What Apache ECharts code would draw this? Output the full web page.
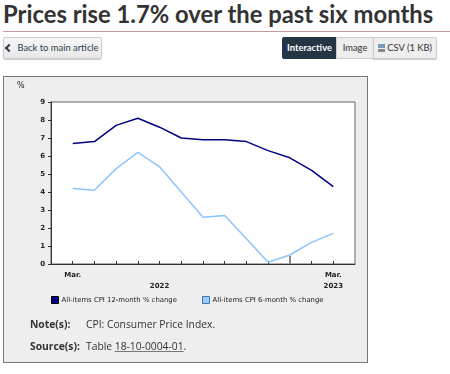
<!DOCTYPE html>
<html>
<head>
<meta charset="utf-8">
<script src="https://cdn.jsdelivr.net/npm/echarts@6/dist/echarts.min.js"></script>
<style>
  html, body { margin:0; padding:0; background:#fff; width:450px; height:374px; overflow:hidden; }
  #title { position:absolute; left:3px; top:0px; font-family:Lato, sans-serif; font-weight:bold; font-size:23.8px; color:#333; white-space:nowrap; }
  #rule { position:absolute; left:3px; top:31px; width:447px; height:1px; background:#c79a9e; }
  .btn { position:absolute; top:37px; height:22px; box-sizing:border-box; font-family:Lato, sans-serif; font-size:9.4px; line-height:20px; color:#333; border:1px solid #ccc; background:linear-gradient(#f7f7f7,#e8e8e8); text-align:center; white-space:nowrap; }
  #back { left:3px; width:99px; border-radius:2px; box-shadow:0 1px 1px rgba(0,0,0,0.2); color:#2d3e50; }
  #inter { left:282px; width:55px; background:#263545; border-color:#263545; color:#fff; font-weight:bold; border-radius:2px 0 0 2px; }
  #img { left:336px; width:38px; background:#eee; }
  #csv { left:373px; width:64px; background:#eee; border-radius:0 2px 2px 0; box-shadow:0 1px 1px rgba(0,0,0,0.2); }
  .chev { display:inline-block; width:4px; height:4px; border-left:2px solid #2d3e50; border-bottom:2px solid #2d3e50; transform:rotate(45deg); vertical-align:0px; margin-right:5px; }
  #box { position:absolute; left:3px; top:76px; width:363px; height:285px; border:1px solid #777; background:#eeeeee; }
  #chart { position:absolute; left:0; top:0; width:363px; height:285px; }
  .note { position:absolute; font-family:"Open Sans", sans-serif; font-size:10.3px; color:#333; white-space:nowrap; }
  .lab { font-weight:bold; }
  .link { text-decoration:underline; text-decoration-color:#777; }
</style>
</head>
<body>
<div id="title">Prices rise 1.7% over the past six months</div>
<div id="rule"></div>
<div class="btn" id="back"><span class="chev"></span>Back to main article</div>
<div class="btn" id="inter">Interactive</div>
<div class="btn" id="img">Image</div>
<div class="btn" id="csv"><span style="display:inline-block;width:7px;height:8px;vertical-align:-1px;background:linear-gradient(#7a9ab8 0 45%, transparent 45% 60%, #888 60%);"></span>&nbsp;CSV (1 KB)</div>
<div id="box">
  <div id="chart"></div>
  <div class="note lab" style="left:26px;top:240px;">Note(s):</div>
  <div class="note" style="left:82px;top:240px;">CPI: Consumer Price Index.</div>
  <div class="note lab" style="left:26px;top:262px;">Source(s):</div>
  <div class="note" style="left:82px;top:262px;">Table <span class="link">18-10-0004-01</span>.</div>
</div>
<script>
// Data
const months = ["Mar. 2022","Apr. 2022","May 2022","Jun. 2022","Jul. 2022","Aug. 2022","Sep. 2022","Oct. 2022","Nov. 2022","Dec. 2022","Jan. 2023","Feb. 2023","Mar. 2023"];
const cpi12 = [6.7, 6.8, 7.7, 8.1, 7.6, 7.0, 6.9, 6.9, 6.8, 6.3, 5.9, 5.2, 4.3];
const cpi6  = [4.2, 4.1, 5.3, 6.2, 5.4, 4.0, 2.6, 2.7, 1.4, 0.1, 0.5, 1.2, 1.7];
const yTicks = [0,1,2,3,4,5,6,7,8,9];
const name12 = "All-items CPI 12-month % change";
const name6 = "All-items CPI 6-month % change";
// x-axis labels: index in months -> label
const xLabels = { 0: "Mar.", 4: "\n2022", 12: "Mar.\n2023" };
const yearStartIndex = 10; // Jan. 2023

// padded categories so that the axis extends one month past each end
const cats = [""].concat(months, [""]);
const pad = arr => [null].concat(arr, [null]);

const chart = echarts.init(document.getElementById('chart'), null, {renderer:'canvas'});
const axisFont = { fontFamily: 'DejaVu Sans, sans-serif', fontSize: 7, color: '#222', fontWeight: 'bold' };
const legendText = { fontFamily: 'DejaVu Sans, sans-serif', fontSize: 6.9, color: '#222', padding: [0,0,0,-2] };
chart.setOption({
  animation: false,
  backgroundColor: 'transparent',
  grid: { left: 47, top: 25, width: 304, height: 162, show: true, backgroundColor: '#fff', borderColor: '#666', borderWidth: 1 },
  graphic: [
    { type: 'text', left: 13, top: 5, style: { text: '%', fontFamily: 'DejaVu Sans, sans-serif', fontSize: 8, fill: '#222' } }
  ],
  legend: [
    { data: [name12], left: 47, top: 219, padding: 0, itemWidth: 7, itemHeight: 7, icon: 'rect', itemGap: 0,
      itemStyle: { borderColor: '#000', borderWidth: 1 }, textStyle: legendText },
    { data: [name6], left: 198, top: 219, padding: 0, itemWidth: 7, itemHeight: 7, icon: 'rect', itemGap: 0,
      itemStyle: { borderColor: '#4477aa', borderWidth: 1 }, textStyle: legendText }
  ],
  xAxis: [
    { type: 'category', data: cats, boundaryGap: false,
      axisLine: { lineStyle: { color: '#333', width: 1 } },
      axisTick: { inside: true, length: 3, lineStyle: { color: '#333' }, interval: i => i >= 1 && i <= months.length },
      axisLabel: Object.assign({ interval: i => xLabels[i-1] !== undefined, formatter: (v, i) => xLabels[i-1] || '', margin: 6, lineHeight: 11 }, axisFont),
      splitLine: { show: false } },
    { type: 'category', data: cats, boundaryGap: false, position: 'bottom',
      axisLine: { show: false },
      axisTick: { inside: true, length: 8, lineStyle: { color: '#888', width: 2 }, interval: i => i === yearStartIndex + 1 },
      axisLabel: { show: false }, splitLine: { show: false } }
  ],
  yAxis: {
    type: 'value', min: yTicks[0], max: yTicks[yTicks.length-1], interval: 1,
    axisLine: { show: true, lineStyle: { color: '#333' } },
    axisTick: { show: true, length: 3, lineStyle: { color: '#333' } },
    axisLabel: Object.assign({ margin: 6 }, axisFont),
    splitLine: { show: false }
  },
  series: [
    { name: name12, type: 'line', data: pad(cpi12), symbol: 'none',
      lineStyle: { color: '#000080', width: 1.5 }, itemStyle: { color: '#000080' } },
    { name: name6, type: 'line', data: pad(cpi6), symbol: 'none',
      lineStyle: { color: '#8cc4ff', width: 1.5 }, itemStyle: { color: '#99ccff' } }
  ]
});
</script>
</body>
</html>
